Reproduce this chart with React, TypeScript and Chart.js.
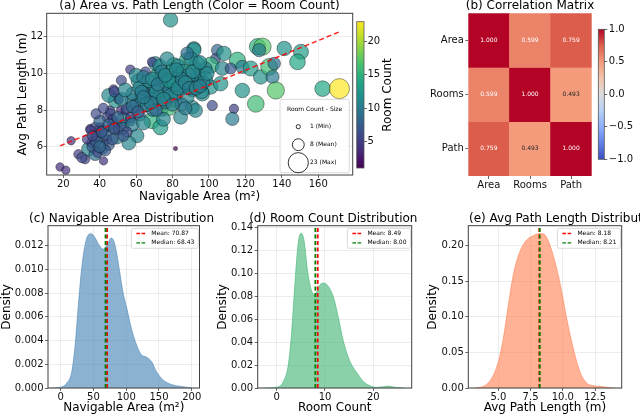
import { useEffect, useRef } from 'react';
import { Chart, registerables } from 'chart.js';

Chart.register(...registerables);

const FONT = "'DejaVu Sans', 'Liberation Sans', sans-serif";
const PAGE_W = 640;
const PAGE_H = 417;

// ---------- (a) scatter: area vs path length, coloured/sized by room count ----------
const areaVals = [
  18.2, 21.4, 24.3, 28.3, 32.0, 33.9, 35.7, 37.5, 34.8, 37.5,
  40.3, 41.2, 42.1, 44.0, 45.8, 46.7, 49.5, 52.2, 53.1, 48.6,
  50.4, 54.1, 56.8, 57.7, 59.6, 60.5, 63.2, 65.1, 66.9, 68.7,
  70.6, 73.3, 74.3, 75.2, 76.1, 77.9, 79.8, 80.7, 83.4, 85.3,
  88.0, 90.8, 91.7, 93.5, 90.8, 84.4, 81.6, 77.9, 72.4, 70.6,
  51.3, 44.9, 39.4, 30.2, 68.7, 56.8, 51.9, 47.6, 65.1, 78.9,
  81.6,
  91.7, 104.6, 103.6, 108.2, 100.9, 98.1, 93.5, 107.3, 115.6, 118.3,
  122.9, 126.6, 129.4, 127.5, 128.4, 133.0, 135.8, 134.9, 136.7, 141.3,
  150.5, 148.6, 118.3, 125.7, 113.7, 112.8, 162.4, 171.6, 101.8, 92.6,
  100.9, 106.4, 93.5, 96.3, 90.8, 111.9,
  38, 42, 44, 47, 50, 53, 46, 55, 57, 60,
  62, 63, 66, 68, 70, 72, 74, 76, 78, 80,
  82, 84, 86, 88, 92, 94, 96, 98, 35, 40,
  45, 58, 64, 75, 85, 52, 48, 61, 73, 90,
  36, 39, 43, 47, 55, 58, 62, 67, 69, 71,
  74, 77, 79, 81, 83, 86, 87, 89, 91, 95,
  97, 99, 60, 64, 54, 42, 33, 38, 56, 88,
  63, 66, 69, 72, 75, 78, 80, 83, 85, 87,
  89, 93, 95, 71, 68, 58, 61, 64, 76, 82,
  38, 41, 45, 48, 36, 43, 50, 53, 40, 47,
];
const pathVals = [
  4.90, 4.72, 6.33, 5.59, 5.32, 5.87, 6.24, 5.59, 6.97, 7.06,
  7.06, 5.96, 5.23, 7.61, 7.98, 7.06, 6.51, 7.24, 7.52, 8.52,
  8.62, 7.98, 7.43, 8.52, 7.98, 6.60, 8.89, 8.16, 8.71, 7.43,
  8.52, 7.06, 7.98, 8.80, 9.44, 9.17, 10.17, 10.45, 9.81, 9.26,
  10.72, 9.53, 11.36, 10.27, 8.16, 7.61, 8.52, 8.16, 9.99, 10.54,
  7.98, 8.80, 6.51, 5.41, 10.63, 10.21, 9.62, 9.13, 10.08, 12.92,
  5.90,
  11.27, 11.27, 10.81, 11.09, 10.45, 10.27, 10.54, 10.27, 10.72, 10.36,
  10.27, 11.46, 11.46, 11.27, 9.81, 10.36, 10.54, 9.81, 9.07, 11.36,
  11.18, 10.63, 9.07, 8.34, 8.07, 7.52, 9.17, 9.17, 8.25, 7.98,
  9.26, 9.44, 9.81, 8.89, 9.07, 10.27,
  6.6, 6.9, 6.4, 7.3, 6.9, 7.0, 7.8, 8.1, 7.6, 8.3,
  7.7, 8.6, 9.1, 8.9, 9.3, 8.6, 9.8, 8.4, 9.1, 9.6,
  8.9, 10.0, 9.2, 8.7, 9.4, 9.9, 9.0, 9.7, 6.9, 7.4,
  6.1, 7.2, 7.3, 7.5, 8.3, 8.6, 9.0, 9.6, 10.4, 10.8,
  6.0, 5.7, 6.7, 7.5, 6.8, 8.9, 9.2, 9.6, 8.0, 9.0,
  10.1, 10.8, 8.8, 9.4, 10.4, 10.1, 8.1, 9.9, 10.1, 10.6,
  9.5, 10.0, 9.9, 9.8, 9.1, 8.1, 6.4, 7.8, 6.2, 11.1,
  9.0, 8.3, 9.7, 9.4, 8.6, 9.6, 8.3, 9.2, 9.7, 9.5,
  9.2, 9.2, 9.3, 8.0, 8.4, 8.2, 7.9, 8.7, 9.9, 10.2,
  6.3, 6.8, 7.2, 7.0, 6.6, 5.8, 7.6, 6.6, 6.0, 6.4,
];
const roomVals = [
  4, 4, 4, 5, 5, 11, 6, 9, 5, 6,
  5, 10, 4, 6, 5, 7, 10, 5, 11, 12,
  6, 5, 7, 11, 5, 11, 12, 6, 13, 15,
  7, 13, 8, 11, 12, 8, 11, 13, 11, 9,
  14, 10, 11, 8, 11, 11, 10, 16, 13, 11,
  4, 11, 10, 6, 5, 5, 6, 5, 6, 12,
  1,
  12, 8, 6, 12, 15, 10, 13, 11, 15, 10,
  13, 15, 17, 10, 12, 16, 9, 10, 17, 12,
  13, 14, 12, 16, 5, 10, 14, 23, 6, 11,
  12, 12, 8, 12, 9, 7,
  6, 7, 5, 6, 5, 8, 6, 7, 6, 9,
  7, 10, 11, 8, 10, 10, 11, 9, 10, 10,
  11, 11, 10, 11, 10, 11, 11, 12, 5, 8,
  7, 10, 11, 11, 10, 10, 6, 11, 11, 11,
  7, 6, 8, 5, 6, 10, 11, 11, 9, 11,
  10, 11, 11, 11, 11, 12, 10, 11, 11, 11,
  10, 11, 11, 10, 11, 6, 5, 6, 11, 9,
  10, 11, 11, 10, 11, 12, 10, 11, 10, 11,
  10, 11, 10, 9, 10, 9, 8, 10, 11, 11,
  7, 7, 8, 7, 6, 7, 8, 7, 8, 7,
];
const trendX = [18.2, 171.4];
const trendY = [6.05, 12.26];
const scatterXRange = [10.9, 178.9];
const scatterYRange = [4.46, 13.28];
const scatterXTicks = [20, 40, 60, 80, 100, 120, 140, 160];
const scatterYTicks = [6, 8, 10, 12];
const sizeLegendCounts = [1, 8, 23];
const sizeLegendLabels = ['1 (Min)', '8 (Mean)', '23 (Max)'];
const roomCbRange = [1, 23];
const roomCbTicks = [5, 10, 15, 20];

// ---------- (b) correlation matrix ----------
const corrLabels = ['Area', 'Rooms', 'Path'];
const corrArea = [1.0, 0.599, 0.759];
const corrRooms = [0.599, 1.0, 0.493];
const corrPath = [0.759, 0.493, 1.0];
const corrRows = [corrArea, corrRooms, corrPath];
const corrCbRange = [-1, 1];
const corrCbTicks = [-1, -0.5, 0, 0.5, 1];

// ---------- (c) navigable area KDE ----------
const areaKdeX = [-16, -1, 9, 17, 22, 27, 32, 37, 42, 47, 52, 58, 65, 71, 77, 81, 85, 90, 95, 101, 108, 116, 123, 131, 139, 146, 156, 169, 184, 200];
const areaKdeY = [0, 0.00005, 0.0004, 0.0014, 0.0036, 0.007, 0.0101, 0.012, 0.0129, 0.013, 0.0127, 0.0121, 0.0117, 0.0121, 0.01265, 0.0124, 0.0115, 0.0098, 0.0081, 0.0067, 0.005, 0.0036, 0.0028, 0.0026, 0.0022, 0.0014, 0.0007, 0.0003, 0.00013, 0.00002];
const areaMean = 70.87;
const areaMedian = 68.43;
const areaXRange = [-19.4, 211.9];
const areaYRange = [0, 0.01368];
const areaXTicks = [0, 50, 100, 150, 200];
const areaYTicks = [0, 0.002, 0.004, 0.006, 0.008, 0.01, 0.012];

// ---------- (d) room count KDE ----------
const roomKdeX = [-2.8, 0, 1.4, 2.4, 3.1, 3.8, 4.5, 5.1, 5.7, 6.4, 7.3, 8.0, 8.7, 9.7, 10.7, 11.8, 12.8, 13.8, 14.9, 15.9, 16.9, 17.9, 19.3, 20.7, 22.1, 23.1, 24.5, 26.6];
const roomKdeY = [0, 0.0006, 0.0058, 0.02, 0.049, 0.093, 0.128, 0.135, 0.128, 0.102, 0.084, 0.0815, 0.0887, 0.0917, 0.0887, 0.0786, 0.061, 0.041, 0.026, 0.0175, 0.0116, 0.0058, 0.002, 0.0006, 0.0012, 0.0017, 0.0006, 0];
const roomMean = 8.49;
const roomMedian = 8.0;
const roomXRange = [-3.93, 27.95];
const roomYRange = [0, 0.1417];
const roomXTicks = [0, 10, 20];
const roomYTicks = [0, 0.02, 0.04, 0.06, 0.08, 0.1, 0.12, 0.14];

// ---------- (e) avg path length KDE ----------
const pathKdeX = [3.06, 3.84, 4.49, 5.0, 5.39, 5.78, 6.16, 6.68, 7.2, 7.71, 8.23, 8.62, 9.0, 9.53, 9.91, 10.3, 10.81, 11.33, 11.85, 12.36, 12.88, 13.4, 14.05];
const pathKdeY = [0, 0.0023, 0.014, 0.037, 0.07, 0.117, 0.159, 0.192, 0.208, 0.214, 0.217, 0.215, 0.201, 0.168, 0.136, 0.098, 0.056, 0.023, 0.007, 0.0033, 0.0023, 0.001, 0];
const pathMean = 8.18;
const pathMedian = 8.21;
const pathXRange = [2.67, 14.57];
const pathYRange = [0, 0.228];
const pathXTicks = [5, 7.5, 10, 12.5];
const pathYTicks = [0, 0.05, 0.1, 0.15, 0.2];

// ---------- colour maps ----------
const VIRIDIS = ['#440154', '#482475', '#414487', '#355f8d', '#2a788e', '#21918c', '#22a884', '#44bf70', '#7ad151', '#bddf26', '#fde725'];
const COOLWARM = ['#3b4cc0', '#6282ea', '#8db0fe', '#b8d0f9', '#dddcdc', '#f5c4ac', '#f49a7b', '#de604d', '#b40426'];

function hexRgb(h: string): number[] {
  return [parseInt(h.slice(1, 3), 16), parseInt(h.slice(3, 5), 16), parseInt(h.slice(5, 7), 16)];
}
function cmap(stops: string[], t: number): number[] {
  const tt = Math.max(0, Math.min(1, t));
  const n = stops.length - 1;
  const i = Math.min(n - 1, Math.floor(tt * n));
  const f = tt * n - i;
  const a = hexRgb(stops[i]);
  const b = hexRgb(stops[i + 1]);
  return [a[0] + (b[0] - a[0]) * f, a[1] + (b[1] - a[1]) * f, a[2] + (b[2] - a[2]) * f];
}
function rgba(c: number[], a: number) {
  return `rgba(${Math.round(c[0])},${Math.round(c[1])},${Math.round(c[2])},${a})`;
}
function luminance(c: number[]) {
  const l = c.map((v) => {
    const s = v / 255;
    return s <= 0.03928 ? s / 12.92 : Math.pow((s + 0.055) / 1.055, 2.4);
  });
  return 0.2126 * l[0] + 0.7152 * l[1] + 0.0722 * l[2];
}
function bubbleRadius(count: number) {
  return 2.1 * Math.sqrt(count);
}
function gradientFor(chart: any, stops: string[]) {
  const ca = chart.chartArea;
  if (!ca) return stops[0];
  const g = chart.ctx.createLinearGradient(0, ca.bottom, 0, ca.top);
  stops.forEach((s, i) => g.addColorStop(i / (stops.length - 1), s));
  return g;
}

// ---------- plugins ----------
function framePlugin(color = '#404040', width = 1) {
  return {
    id: 'frame',
    afterDraw(chart: any) {
      const { ctx, chartArea: ca } = chart;
      ctx.save();
      ctx.strokeStyle = color;
      ctx.lineWidth = width;
      ctx.strokeRect(ca.left, ca.top, ca.right - ca.left, ca.bottom - ca.top);
      ctx.restore();
    },
  };
}

type TextItem = { text: string; x: number; y: number; size?: number; align?: CanvasTextAlign; rotate?: number; color?: string };
function textPlugin(items: TextItem[]) {
  return {
    id: 'texts',
    afterDraw(chart: any) {
      const ctx = chart.ctx;
      items.forEach((it) => {
        ctx.save();
        ctx.font = `${it.size || 12}px ${FONT}`;
        ctx.fillStyle = it.color || '#000';
        ctx.textAlign = it.align || 'center';
        ctx.textBaseline = 'middle';
        ctx.translate(it.x, it.y);
        if (it.rotate) ctx.rotate((it.rotate * Math.PI) / 180);
        ctx.fillText(it.text, 0, 0);
        ctx.restore();
      });
    },
  };
}

function roundRect(ctx: CanvasRenderingContext2D, x: number, y: number, w: number, h: number, r: number) {
  ctx.beginPath();
  ctx.moveTo(x + r, y);
  ctx.lineTo(x + w - r, y);
  ctx.arcTo(x + w, y, x + w, y + r, r);
  ctx.lineTo(x + w, y + h - r);
  ctx.arcTo(x + w, y + h, x + w - r, y + h, r);
  ctx.lineTo(x + r, y + h);
  ctx.arcTo(x, y + h, x, y + h - r, r);
  ctx.lineTo(x, y + r);
  ctx.arcTo(x, y, x + r, y, r);
  ctx.closePath();
}

function sizeLegendPlugin() {
  return {
    id: 'sizeLegend',
    afterDraw(chart: any) {
      const { ctx, chartArea: ca } = chart;
      const w = 69.3;
      const h = 73.4;
      const x0 = ca.right - 3.4 - w;
      const y0 = ca.bottom - 2.3 - h;
      ctx.save();
      roundRect(ctx, x0, y0, w, h, 2);
      ctx.fillStyle = 'rgba(255,255,255,0.85)';
      ctx.fill();
      ctx.strokeStyle = '#d0d0d0';
      ctx.lineWidth = 0.8;
      ctx.stroke();
      ctx.fillStyle = '#000';
      ctx.font = `6px ${FONT}`;
      ctx.textBaseline = 'middle';
      ctx.textAlign = 'center';
      ctx.fillText('Room Count - Size', x0 + w / 2, y0 + 9.7);
      sizeLegendCounts.forEach((c, i) => {
        const cy = y0 + 27.4 + i * 18;
        ctx.beginPath();
        ctx.arc(x0 + 18.3, cy, bubbleRadius(c), 0, Math.PI * 2);
        ctx.strokeStyle = '#000';
        ctx.lineWidth = 0.8;
        ctx.stroke();
        ctx.textAlign = 'left';
        ctx.fillText(sizeLegendLabels[i], x0 + 30, cy);
      });
      ctx.restore();
    },
  };
}

function kdeLegendPlugin(items: { label: string; color: string }[]) {
  return {
    id: 'kdeLegend',
    afterDraw(chart: any) {
      const { ctx, chartArea: ca } = chart;
      ctx.save();
      ctx.font = `6px ${FONT}`;
      const tw = Math.max(...items.map((it) => ctx.measureText(it.label).width));
      const w = 20 + tw + 4;
      const h = 20;
      const x0 = ca.right - 1.2 - w;
      const y0 = ca.top + 2.6;
      roundRect(ctx, x0, y0, w, h, 2);
      ctx.fillStyle = 'rgba(255,255,255,0.85)';
      ctx.fill();
      ctx.strokeStyle = '#d0d0d0';
      ctx.lineWidth = 0.8;
      ctx.stroke();
      items.forEach((it, i) => {
        const y = y0 + 5.2 + i * 9.4;
        ctx.beginPath();
        ctx.setLineDash([3.6, 1.6]);
        ctx.moveTo(x0 + 5, y);
        ctx.lineTo(x0 + 15, y);
        ctx.strokeStyle = it.color;
        ctx.lineWidth = 1.4;
        ctx.stroke();
        ctx.setLineDash([]);
        ctx.fillStyle = '#000';
        ctx.textAlign = 'left';
        ctx.textBaseline = 'middle';
        ctx.fillText(it.label, x0 + 20, y);
      });
      ctx.restore();
    },
  };
}

function heatTextPlugin() {
  return {
    id: 'heatText',
    afterDatasetsDraw(chart: any) {
      const ctx = chart.ctx;
      ctx.save();
      ctx.font = `6px ${FONT}`;
      ctx.textAlign = 'center';
      ctx.textBaseline = 'middle';
      chart.data.datasets.forEach((_ds: any, i: number) => {
        const meta = chart.getDatasetMeta(i);
        meta.data.forEach((el: any, j: number) => {
          const v = corrRows[i][j];
          const c = cmap(COOLWARM, (v + 1) / 2);
          ctx.fillStyle = luminance(c) > 0.408 ? '#262626' : '#ffffff';
          ctx.fillText(v.toFixed(3), el.x, (el.y + el.base) / 2);
        });
      });
      ctx.restore();
    },
  };
}

// ---------- axis helpers ----------
const TICK_COLOR = '#111';
const GRID_COLOR = 'rgba(0,0,0,0.09)';

function fixedTicks(values: number[]) {
  return (s: any) => {
    s.ticks = values.map((value) => ({ value }));
  };
}

function linAxis(o: {
  min: number; max: number; ticks: number[]; fmt: (v: number) => string; size: number; horizontal: boolean;
  title?: string; tickPad: number; grid: boolean; position?: string; titleSize?: number;
}) {
  return {
    type: 'linear',
    position: o.position,
    min: o.min,
    max: o.max,
    afterFit: (s: any) => {
      if (o.horizontal) s.height = o.size;
      else s.width = o.size;
    },
    afterBuildTicks: fixedTicks(o.ticks),
    ticks: {
      font: { size: 10, family: FONT },
      color: TICK_COLOR,
      padding: o.tickPad,
      maxRotation: 0,
      autoSkip: false,
      callback: (v: any) => o.fmt(Number(v)),
    },
    grid: {
      display: true,
      drawOnChartArea: o.grid,
      color: GRID_COLOR,
      lineWidth: 0.8,
      drawTicks: true,
      tickLength: 3,
      tickColor: '#404040',
      tickWidth: 0.8,
    },
    border: { display: false },
    title: o.title
      ? { display: true, text: o.title, font: { size: o.titleSize || 12, family: FONT }, color: '#000', padding: 0 }
      : { display: false },
  };
}

// ---------- chart configs ----------
function scatterConfig(): any {
  return {
    type: 'scatter',
    data: {
      datasets: [
        {
          type: 'line',
          label: 'trend',
          data: trendX.map((x, i) => ({ x, y: trendY[i] })),
          borderColor: 'rgba(255,0,0,0.85)',
          borderDash: [5, 3],
          borderWidth: 1.5,
          pointRadius: 0,
          fill: false,
          order: 0,
        },
        {
          label: 'points',
          data: areaVals.map((a, i) => ({ x: a, y: pathVals[i] })),
          pointRadius: (c: any) => bubbleRadius(roomVals[c.dataIndex] ?? 1),
          backgroundColor: (c: any) => rgba(cmap(VIRIDIS, ((roomVals[c.dataIndex] ?? 1) - roomCbRange[0]) / (roomCbRange[1] - roomCbRange[0])), 0.7),
          borderColor: 'rgba(0,0,0,0.55)',
          borderWidth: 0.7,
          order: 1,
        },
      ],
    },
    options: {
      responsive: false,
      animation: false,
      events: [],
      layout: { padding: { left: 15.5, top: 13.3, right: PAGE_W - 352.7, bottom: PAGE_H - 204.2 } },
      scales: {
        x: linAxis({ min: scatterXRange[0], max: scatterXRange[1], ticks: scatterXTicks, fmt: (v) => String(v), size: 29.2, horizontal: true, title: 'Navigable Area (m²)', tickPad: 0, grid: true }),
        y: linAxis({ min: scatterYRange[0], max: scatterYRange[1], ticks: scatterYTicks, fmt: (v) => String(v), size: 31.2, horizontal: false, title: 'Avg Path Length (m)', tickPad: 0.5, grid: true }),
      },
      plugins: { legend: { display: false }, tooltip: { enabled: false } },
    },
    plugins: [
      framePlugin(),
      sizeLegendPlugin(),
      textPlugin([{ text: '(a) Area vs. Path Length (Color = Room Count)', x: 199.5, y: 5.5, size: 12 }]),
    ],
  };
}

function colorbarConfig(o: {
  range: number[]; ticks: number[]; fmt: (v: number) => string; stops: string[];
  left: number; right: number; top: number; bottom: number; axisW: number; tickPad: number; texts: TextItem[];
}): any {
  return {
    type: 'bar',
    data: {
      labels: [''],
      datasets: [
        {
          data: [[o.range[0], o.range[1]]],
          backgroundColor: (c: any) => gradientFor(c.chart, o.stops),
          borderWidth: 0,
          barPercentage: 1,
          categoryPercentage: 1,
        },
      ],
    },
    options: {
      responsive: false,
      animation: false,
      events: [],
      layout: { padding: { left: o.left, top: o.top, right: PAGE_W - o.right - o.axisW, bottom: PAGE_H - o.bottom } },
      scales: {
        x: { display: false },
        y: linAxis({ min: o.range[0], max: o.range[1], ticks: o.ticks, fmt: o.fmt, size: o.axisW, horizontal: false, tickPad: o.tickPad, grid: false, position: 'right' }),
      },
      plugins: { legend: { display: false }, tooltip: { enabled: false } },
    },
    plugins: [framePlugin('#555', 0.8), textPlugin(o.texts)],
  };
}

function heatConfig(): any {
  return {
    type: 'bar',
    data: {
      labels: corrLabels,
      datasets: corrRows.map((row, i) => ({
        label: corrLabels[i],
        data: row.map(() => 1),
        backgroundColor: row.map((v) => rgba(cmap(COOLWARM, (v - corrCbRange[0]) / (corrCbRange[1] - corrCbRange[0])), 1)),
        borderWidth: 0,
        barPercentage: 1,
        categoryPercentage: 1,
        stack: 'cells',
      })),
    },
    options: {
      responsive: false,
      animation: false,
      events: [],
      layout: { padding: { left: 408.3, top: 13.3, right: PAGE_W - 591.7, bottom: PAGE_H - 196 } },
      scales: {
        x: {
          type: 'category',
          stacked: true,
          afterFit: (s: any) => {
            s.height = 20;
          },
          ticks: { font: { size: 10, family: FONT }, color: TICK_COLOR, padding: 0, maxRotation: 0, autoSkip: false },
          grid: { offset: false, drawOnChartArea: false, drawTicks: true, tickLength: 3, tickColor: '#404040', tickWidth: 0.8 },
          border: { display: false },
        },
        y: {
          type: 'linear',
          stacked: true,
          min: 0,
          max: corrLabels.length,
          reverse: true,
          afterFit: (s: any) => {
            s.width = 60;
          },
          afterBuildTicks: fixedTicks(corrLabels.map((_l, i) => i + 0.5)),
          ticks: {
            font: { size: 10, family: FONT },
            color: TICK_COLOR,
            padding: 1.5,
            autoSkip: false,
            callback: (v: any) => corrLabels[Math.round(Number(v) - 0.5)],
          },
          grid: { drawOnChartArea: false, drawTicks: true, tickLength: 3, tickColor: '#404040', tickWidth: 0.8 },
          border: { display: false },
        },
      },
      plugins: { legend: { display: false }, tooltip: { enabled: false } },
    },
    plugins: [heatTextPlugin(), textPlugin([{ text: '(b) Correlation Matrix', x: 530, y: 5.5, size: 12 }])],
  };
}

function kdeConfig(o: {
  xs: number[]; ys: number[]; fill: string; line: string; mean: number; median: number;
  xRange: number[]; yRange: number[]; xTicks: number[]; yTicks: number[]; xFmt: (v: number) => string; yFmt: (v: number) => string;
  xTitle: string; padLeft: number; plotRight: number; yW: number; title: TextItem;
}): any {
  const meanLabel = `Mean: ${o.mean.toFixed(2)}`;
  const medianLabel = `Median: ${o.median.toFixed(2)}`;
  return {
    type: 'line',
    data: {
      datasets: [
        {
          label: 'kde',
          data: o.xs.map((x, i) => ({ x, y: o.ys[i] })),
          fill: 'origin',
          backgroundColor: o.fill,
          borderColor: o.line,
          borderWidth: 0.8,
          pointRadius: 0,
          cubicInterpolationMode: 'monotone',
          order: 2,
        },
        {
          label: meanLabel,
          data: [{ x: o.mean, y: o.yRange[0] }, { x: o.mean, y: o.yRange[1] }],
          borderColor: '#ff0000',
          borderDash: [4, 2.5],
          borderWidth: 1.8,
          pointRadius: 0,
          fill: false,
          order: 1,
        },
        {
          label: medianLabel,
          data: [{ x: o.median, y: o.yRange[0] }, { x: o.median, y: o.yRange[1] }],
          borderColor: '#008000',
          borderDash: [4, 2.5],
          borderWidth: 1.8,
          pointRadius: 0,
          fill: false,
          order: 0,
        },
      ],
    },
    options: {
      responsive: false,
      animation: false,
      events: [],
      layout: { padding: { left: o.padLeft, top: 225.7, right: PAGE_W - o.plotRight, bottom: PAGE_H - 415.5 } },
      scales: {
        x: linAxis({ min: o.xRange[0], max: o.xRange[1], ticks: o.xTicks, fmt: o.xFmt, size: 27.5, horizontal: true, title: o.xTitle, tickPad: 0.5, grid: true }),
        y: linAxis({ min: o.yRange[0], max: o.yRange[1], ticks: o.yTicks, fmt: o.yFmt, size: o.yW, horizontal: false, title: 'Density', tickPad: 1.5, grid: true }),
      },
      plugins: { legend: { display: false }, tooltip: { enabled: false } },
    },
    plugins: [
      framePlugin(),
      kdeLegendPlugin([
        { label: meanLabel, color: '#ff0000' },
        { label: medianLabel, color: '#008000' },
      ]),
      textPlugin([o.title]),
    ],
  };
}

function buildConfigs(): any[] {
  return [
    scatterConfig(),
    colorbarConfig({
      range: roomCbRange, ticks: roomCbTicks, fmt: (v) => String(v), stops: VIRIDIS,
      left: 356.7, right: 364, top: 21.7, bottom: 168, axisW: 30, tickPad: 0.5,
      texts: [{ text: 'Room Count', x: 388, y: 95, size: 12, rotate: -90 }],
    }),
    heatConfig(),
    colorbarConfig({
      range: corrCbRange, ticks: corrCbTicks, fmt: (v) => (v < 0 ? '\u2212' : '') + Math.abs(v).toFixed(1), stops: COOLWARM,
      left: 598.3, right: 604.3, top: 29.3, bottom: 159.3, axisW: 30, tickPad: 1.5,
      texts: [],
    }),
    kdeConfig({
      xs: areaKdeX, ys: areaKdeY, fill: 'rgba(70,130,180,0.62)', line: 'rgba(70,130,180,0.7)', mean: areaMean, median: areaMedian,
      xRange: areaXRange, yRange: areaYRange, xTicks: areaXTicks, yTicks: areaYTicks,
      xFmt: (v) => String(v), yFmt: (v) => v.toFixed(3),
      xTitle: 'Navigable Area (m²)', padLeft: 0, plotRight: 199.5, yW: 48,
      title: { text: '(c) Navigable Area Distribution', x: 121.5, y: 219, size: 12 },
    }),
    kdeConfig({
      xs: roomKdeX, ys: roomKdeY, fill: 'rgba(60,179,113,0.6)', line: 'rgba(60,179,113,0.7)', mean: roomMean, median: roomMedian,
      xRange: roomXRange, yRange: roomYRange, xTicks: roomXTicks, yTicks: roomYTicks,
      xFmt: (v) => String(v), yFmt: (v) => v.toFixed(2),
      xTitle: 'Room Count', padLeft: 215.5, plotRight: 411.7, yW: 42.2,
      title: { text: '(d) Room Count Distribution', x: 333.3, y: 219, size: 12 },
    }),
    kdeConfig({
      xs: pathKdeX, ys: pathKdeY, fill: 'rgba(255,127,80,0.6)', line: 'rgba(255,127,80,0.7)', mean: pathMean, median: pathMedian,
      xRange: pathXRange, yRange: pathYRange, xTicks: pathXTicks, yTicks: pathYTicks,
      xFmt: (v) => v.toFixed(1), yFmt: (v) => v.toFixed(2),
      xTitle: 'Avg Path Length (m)', padLeft: 426.1, plotRight: 621.7, yW: 42.2,
      title: { text: '(e) Avg Path Length Distribution', x: 469, y: 219, size: 12, align: 'left' },
    }),
  ];
}

const N_CHARTS = 7;

export default function App() {
  const refs = useRef<(HTMLCanvasElement | null)[]>([]);

  useEffect(() => {
    const configs = buildConfigs();
    const charts: Chart[] = [];
    configs.forEach((cfg, i) => {
      const cv = refs.current[i];
      if (cv) charts.push(new Chart(cv, cfg));
    });
    return () => {
      charts.forEach((c) => c.destroy());
    };
  }, []);

  return (
    <div style={{ position: 'fixed', left: 0, top: 0, width: PAGE_W, height: PAGE_H, background: '#ffffff', overflow: 'hidden' }}>
      {Array.from({ length: N_CHARTS }).map((_v, i) => (
        <canvas
          key={i}
          ref={(el) => {
            refs.current[i] = el;
          }}
          width={PAGE_W}
          height={PAGE_H}
          style={{ position: 'absolute', left: 0, top: 0, width: PAGE_W, height: PAGE_H, pointerEvents: 'none' }}
        />
      ))}
    </div>
  );
}
